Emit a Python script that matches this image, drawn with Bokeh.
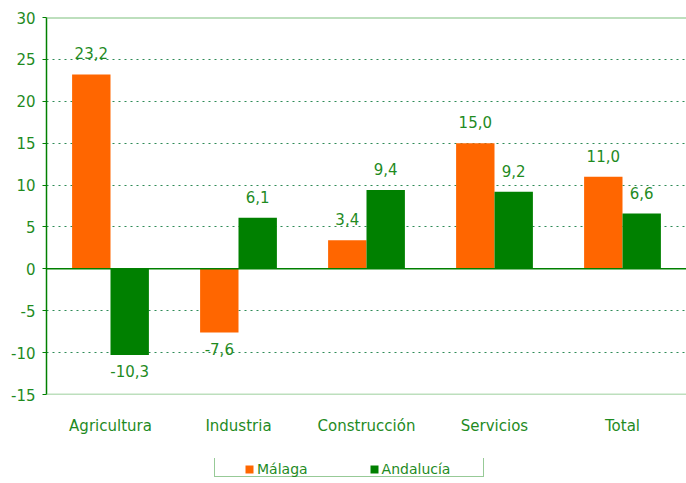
from bokeh.plotting import figure
from bokeh.layouts import column
from bokeh.models import (FactorRange, Range1d, Span, Legend, LegendItem,
                          FixedTicker, ColumnDataSource, PrintfTickFormatter)
from bokeh.transform import dodge
from bokeh.embed import file_html
from bokeh.resources import INLINE

categories = ["Agricultura", "Industria", "Construcción", "Servicios", "Total"]
malaga = [23.2, -7.6, 3.4, 15.0, 11.0]
andalucia = [-10.3, 6.1, 9.4, 9.2, 6.6]
y_ticks = [-15, -10, -5, 0, 5, 10, 15, 20, 25, 30]
series_names = ["Málaga", "Andalucía"]

ORANGE = "#FF6600"
GREEN = "#008000"
TEXT = "#1f8b1f"
GRID = "#2e8b57"
LIGHT = "#7cc07c"
FONT = "DejaVu Sans"

Y_MIN, Y_MAX = -15, 30
FRAME_H = 377
px = (Y_MAX - Y_MIN) / FRAME_H  # data units per pixel


def label_pos(vals):
    return [v + 21 * px if v >= 0 else v - 16 * px for v in vals]


def fmt(vals):
    return [("%.1f" % v).replace(".", ",") for v in vals]


src = ColumnDataSource(dict(
    cat=categories, malaga=malaga, andalucia=andalucia,
    m_y=label_pos(malaga), a_y=label_pos(andalucia),
    m_t=fmt(malaga), a_t=fmt(andalucia),
))

p = figure(x_range=FactorRange(factors=categories, range_padding=0),
           y_range=Range1d(Y_MIN, Y_MAX),
           width=686, height=458,
           min_border_left=46, min_border_right=0,
           min_border_top=17, min_border_bottom=64,
           output_backend="svg", toolbar_location=None)
p.outline_line_color = None
p.background_fill_color = "white"

# grid
p.xgrid.grid_line_color = None
p.ygrid.grid_line_color = GRID
p.ygrid.grid_line_dash = "2 4"
p.ygrid.grid_line_width = 1
p.yaxis.ticker = FixedTicker(ticks=y_ticks)
p.yaxis.formatter = PrintfTickFormatter(format="%d")

p.vbar(x=dodge("cat", -0.15, range=p.x_range), top="malaga", bottom=0,
       width=0.3, source=src, fill_color=ORANGE, line_color=None)
p.vbar(x=dodge("cat", 0.15, range=p.x_range), top="andalucia", bottom=0,
       width=0.3, source=src, fill_color=GREEN, line_color=None)

for loc, col, w in [(Y_MAX, LIGHT, 2), (Y_MIN, LIGHT, 1.5), (0, GREEN, 1.5)]:
    p.add_layout(Span(location=loc, dimension="width", line_color=col, line_width=w))

p.text(x=dodge("cat", -0.15, range=p.x_range), y="m_y", text="m_t", source=src,
       text_align="center", text_baseline="middle", text_color=TEXT,
       text_font_size="15px", text_font={"value": FONT})
p.text(x=dodge("cat", 0.15, range=p.x_range), y="a_y", text="a_t", source=src,
       text_align="center", text_baseline="middle", text_color=TEXT,
       text_font_size="15px", text_font={"value": FONT})

# axes
p.yaxis.axis_line_color = GREEN
p.yaxis.axis_line_width = 1.5
p.yaxis.major_tick_line_color = GREEN
p.yaxis.major_tick_out = 4
p.yaxis.major_tick_in = 0
p.yaxis.minor_tick_line_color = None
p.yaxis.major_label_standoff = 7
p.yaxis.major_label_text_color = TEXT
p.yaxis.major_label_text_font = FONT
p.yaxis.major_label_text_font_size = "15px"

p.xaxis.axis_line_color = None
p.xaxis.major_tick_line_color = None
p.xaxis.major_tick_out = 0
p.xaxis.major_tick_in = 0
p.xaxis.minor_tick_line_color = None
p.xaxis.major_label_standoff = 22
p.xaxis.major_label_text_color = TEXT
p.xaxis.major_label_text_font = FONT
p.xaxis.major_label_text_font_size = "15px"

# legend strip below the chart (its frame is aligned with the chart frame)
lf = figure(width=686, height=25, x_range=Range1d(0, 1), y_range=Range1d(0, 1),
            x_axis_location=None, y_axis_location=None,
            min_border_left=0, min_border_right=0, min_border_top=0,
            min_border_bottom=0, output_backend="svg", toolbar_location=None)
lf.outline_line_color = None
lf.grid.grid_line_color = None
# zero-size helper glyphs that only give the legend its swatches
dummy = lf.vbar(x=[0], top=[0], bottom=[0], width=0, fill_alpha=0, line_alpha=0)
g_m = lf.vbar(x=[0], top=[0], bottom=[0], width=0, fill_color=ORANGE, line_color=None)
g_a = lf.vbar(x=[0], top=[0], bottom=[0], width=0, fill_color=GREEN, line_color=None)

common = dict(orientation="horizontal", margin=0,
              padding=4, glyph_width=10, glyph_height=10, label_standoff=3,
              label_text_font_size="14px", label_text_font=FONT,
              label_text_color=TEXT)
leg_box = Legend(items=[LegendItem(label=" ", renderers=[dummy])],
                 location=(168, 6), label_width=247,
                 border_line_color="#2f962f", border_line_width=1,
                 background_fill_color="white", background_fill_alpha=1,
                 **common)
leg = Legend(items=[LegendItem(label=series_names[0], renderers=[g_m]),
                    LegendItem(label=series_names[1], renderers=[g_a])],
             location=(198, 6), spacing=61, border_line_color=None,
             background_fill_alpha=0, **common)
lf.add_layout(leg_box)
lf.add_layout(leg)

open("out.html", "w").write(file_html(column(p, lf, spacing=0), INLINE))
